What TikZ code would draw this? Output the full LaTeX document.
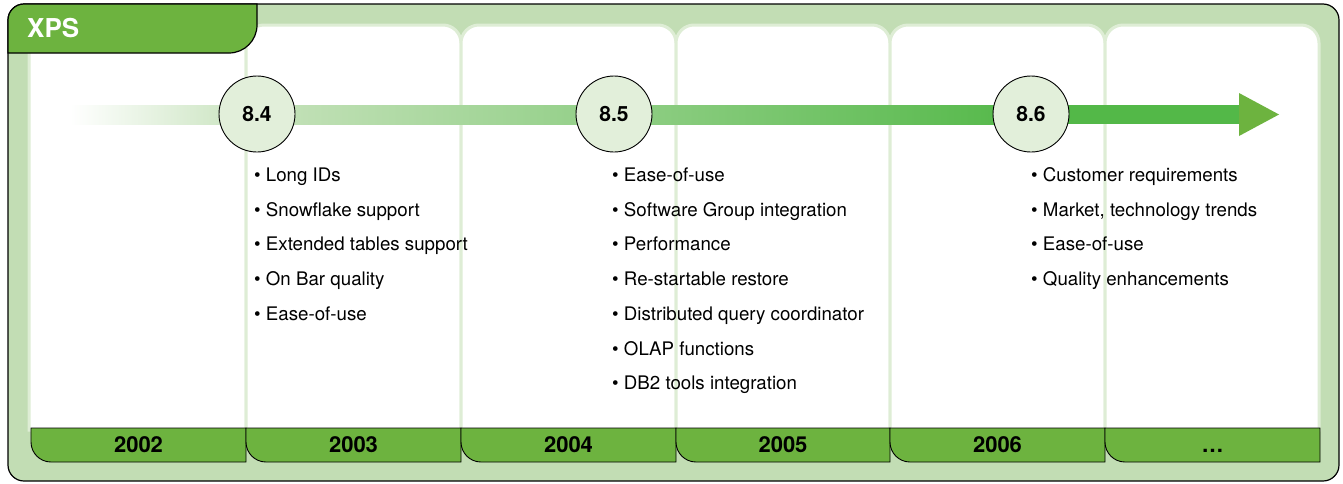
\documentclass[tikz,border=0pt]{standalone}
\usepackage{fontspec}
\setmainfont{TeX Gyre Heros}
\usetikzlibrary{positioning}

\definecolor{frameGreen}{HTML}{C2DDB4}
\definecolor{paleGreen}{HTML}{DEEDD5}
\definecolor{barGreen}{HTML}{6DB33F}
\definecolor{arrowGreen}{HTML}{53B848}
\definecolor{midGreen}{HTML}{C6E2BB}
\definecolor{circleGreen}{HTML}{E2EFDA}

\begin{document}
\begin{tikzpicture}[x=1pt, y=-1pt,
    panel/.style={draw=paleGreen, line width=3pt, fill=white},
    yearbox/.style={draw=black, line width=0.9pt, fill=barGreen},
    yearlabel/.style={anchor=base, inner sep=0pt, font=\fontsize{22}{26}\selectfont\bfseries},
    version/.style={circle, draw, line width=0.9pt, fill=circleGreen, minimum size=76pt, inner sep=0pt, font=\fontsize{21}{24}\selectfont\bfseries},
    item/.style={anchor=base west, inner sep=0pt, font=\fontsize{18.7}{22}\selectfont}]

    \useasboundingbox (0,0) rectangle (1343,483);

    % outer frame
    \draw[fill=frameGreen, line width=1.2pt, rounded corners=16pt] (8,4) rectangle (1339,481);

    % white panels, one per year
    \foreach \a/\b in {29/246, 246/461, 461/676, 676/890, 890/1105, 1105/1319}
        \draw[panel] (\a,430) -- (\a,43) arc (180:270:18) -- (\b-18,25) arc (270:360:18) -- (\b,430) -- cycle;

    % title tab
    \draw[fill=barGreen, line width=1.2pt] (8,53) -- (8,20) arc (180:270:16) -- (257,4) -- (257,25) arc (0:90:28) -- cycle;
    \node[anchor=west, inner sep=0pt, text=white, font=\fontsize{26}{30}\selectfont\bfseries] (xps) at (27,28) {XPS};

    % year bar
    \foreach \a/\b/\yr [count=\i] in {31/246/2002, 246/461/2003, 461/676/2004, 676/890/2005, 890/1105/2006, 1105/1320/\ldots}
    {
        \draw[yearbox] (\a,428) -- (\a,442) arc (180:90:20) -- (\b,462) -- (\b,428) -- cycle;
        \node[yearlabel] (year\i) at ({(\a+\b)/2},452) {\yr};
    }

    % timeline arrow
    \shade[left color=white, right color=midGreen] (70,105) rectangle (257,124);
    \shade[left color=midGreen, right color=arrowGreen] (257,105) rectangle (1031,124);
    \fill[arrowGreen] (1031,105) rectangle (1240,124);
    \fill[barGreen] (1239,93) -- (1279,114.5) -- (1239,136) -- cycle;

    % releases
    \node[version] (v84) at (257,114) {8.4};
    \node[version] (v85) at (614,114) {8.5};
    \node[version] (v86) at (1031,114) {8.6};

    % features
    \foreach \t [count=\i from 0] in {Long IDs, Snowflake support, Extended tables support, On Bar quality, Ease-of-use}
        \node[item] (f84-\i) at (254,181.5+34.7*\i) {\textbullet\ \t};
    \foreach \t [count=\i from 0] in {Ease-of-use, Software Group integration, Performance, Re-startable restore, Distributed query coordinator, OLAP functions, DB2 tools integration}
        \node[item] (f85-\i) at (612,181.5+34.7*\i) {\textbullet\ \t};
    \foreach \t [count=\i from 0] in {Customer requirements, {Market, technology trends}, Ease-of-use, Quality enhancements}
        \node[item] (f86-\i) at (1031,181.5+34.7*\i) {\textbullet\ \t};
\end{tikzpicture}
\end{document}
